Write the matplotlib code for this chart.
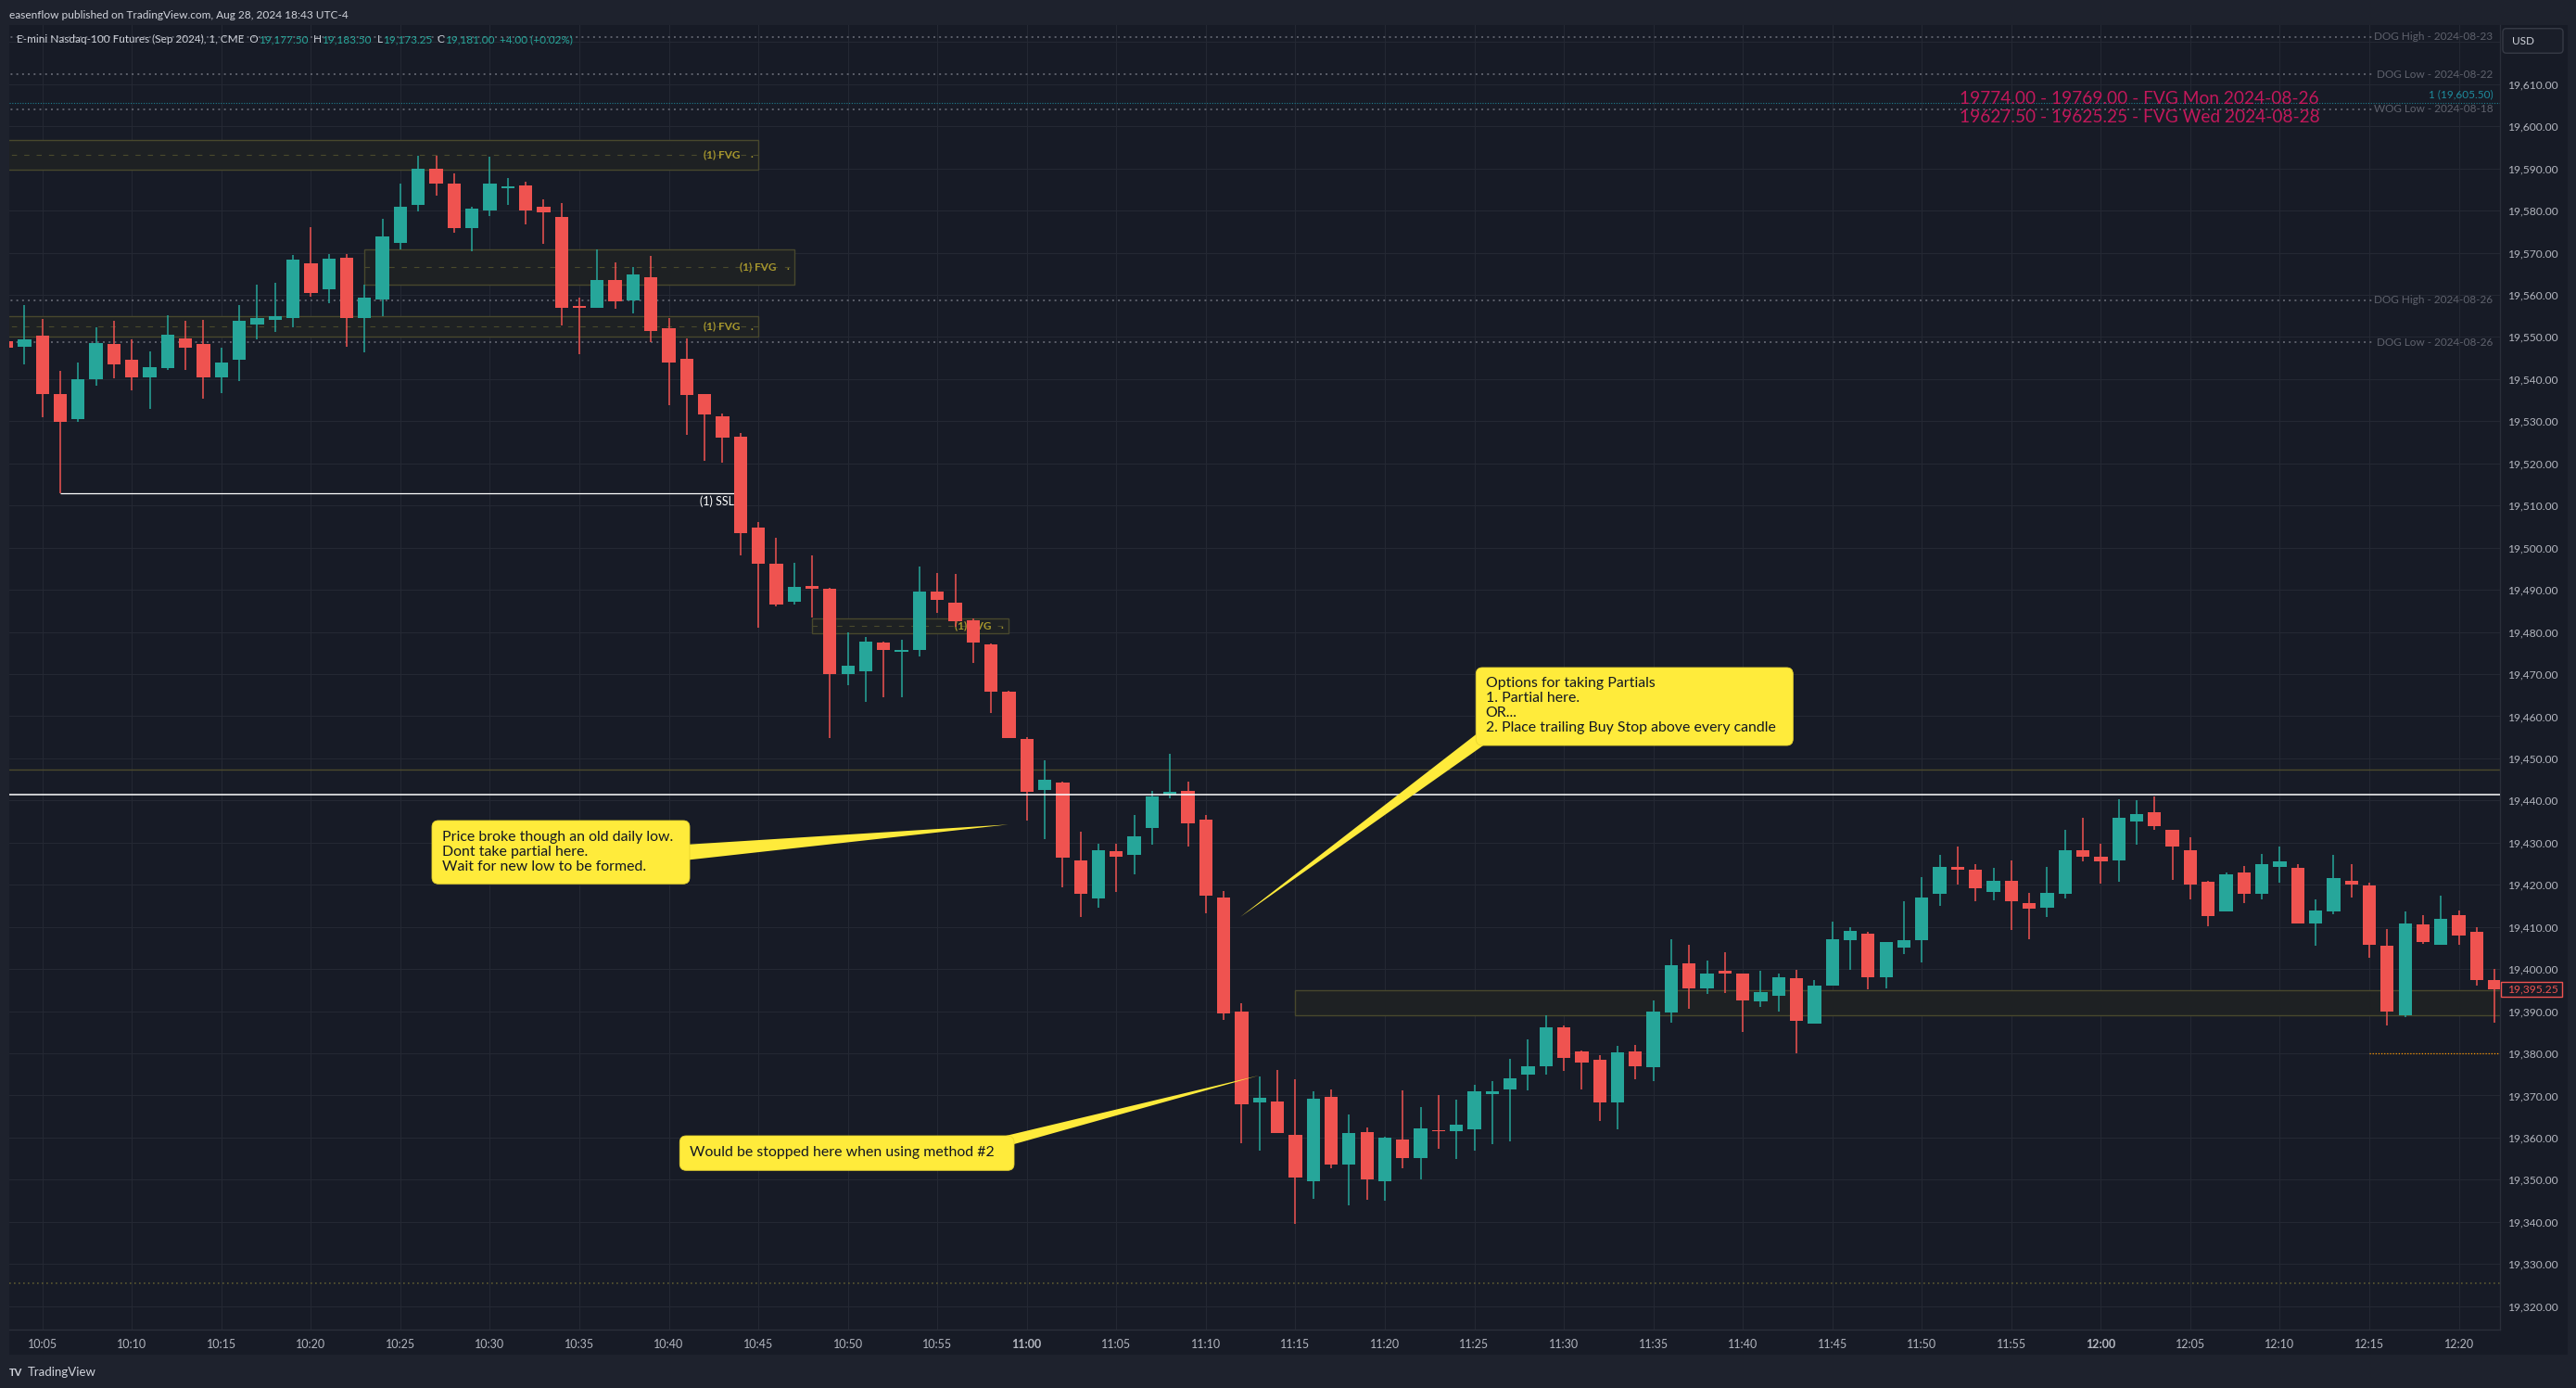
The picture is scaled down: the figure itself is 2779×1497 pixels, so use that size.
import matplotlib
matplotlib.use("Agg")
import matplotlib.pyplot as plt
import matplotlib.transforms as mtrans
from matplotlib.patches import FancyBboxPatch, Polygon, Rectangle
from matplotlib.offsetbox import TextArea, HPacker, AnchoredOffsetbox
import numpy as np
import pandas as pd

plt.rcParams["font.family"] = ["Lato", "DejaVu Sans"]

# ---- data: 1 minute candles, first bar 10:03 ----
start_time = "2024-08-28 10:03"

opens = [
    19549.0, 19547.75, 19550.25, 19536.5, 19530.5, 19540.0, 19548.25, 19544.5, 19540.5, 19542.5,
    19549.75, 19548.25, 19540.5, 19544.5, 19553.0, 19554.0, 19554.5, 19567.5, 19561.25, 19568.75,
    19554.5, 19559.0, 19572.25, 19581.25, 19590.0, 19586.5, 19575.75, 19580.0, 19585.5, 19586.0,
    19581.0, 19578.5, 19557.25, 19557.0, 19563.5, 19558.75, 19564.25, 19552.0, 19544.75, 19536.5,
    19531.25, 19526.25, 19504.75, 19496.25, 19487.25, 19491.0, 19490.25, 19470.0, 19470.75, 19477.5,
    19475.5, 19475.75, 19489.5, 19487.0, 19482.75, 19477.0, 19465.75, 19454.5, 19442.5, 19444.25,
    19425.75, 19416.75, 19428.0, 19427.0, 19433.5, 19441.5, 19442.25, 19435.5, 19417.0, 19390.0,
    19368.25, 19368.5, 19360.75, 19349.75, 19369.75, 19353.5, 19361.25, 19349.75, 19359.5, 19355.25,
    19361.75, 19361.5, 19362.0, 19370.25, 19371.5, 19375.0, 19377.0, 19386.25, 19380.5, 19378.5,
    19368.25, 19380.5, 19376.75, 19389.75, 19401.25, 19395.5, 19399.5, 19399.0, 19392.25, 19393.75,
    19397.75, 19387.0, 19396.0, 19406.75, 19408.5, 19398.0, 19405.0, 19406.75, 19417.75, 19424.25,
    19423.5, 19418.25, 19421.0, 19415.75, 19414.5, 19417.75, 19428.25, 19426.75, 19425.75, 19435.0,
    19437.25, 19433.0, 19428.25, 19420.75, 19413.75, 19423.0, 19417.75, 19424.25, 19424.0, 19410.75,
    19413.75, 19421.0, 19419.75, 19405.5, 19389.0, 19410.5, 19405.75, 19412.75, 19408.75, 19397.5,
]
highs = [
    19549.5, 19557.5, 19554.25, 19542.0, 19544.0, 19552.25, 19553.75, 19549.5, 19546.5, 19555.25,
    19553.75, 19554.0, 19547.5, 19557.5, 19562.5, 19562.75, 19569.5, 19576.0, 19569.75, 19569.75,
    19562.5, 19578.0, 19586.5, 19593.0, 19593.0, 19588.75, 19581.0, 19592.75, 19587.75, 19586.75,
    19582.75, 19581.75, 19559.25, 19570.75, 19567.75, 19566.5, 19569.25, 19554.5, 19549.75, 19536.5,
    19531.75, 19527.25, 19506.0, 19502.25, 19496.5, 19498.25, 19490.5, 19480.0, 19478.75, 19477.75,
    19478.25, 19495.5, 19494.0, 19493.75, 19483.25, 19477.25, 19466.0, 19455.0, 19449.5, 19444.5,
    19432.5, 19429.75, 19429.75, 19436.5, 19442.25, 19451.0, 19444.5, 19436.5, 19418.5, 19392.0,
    19374.5, 19376.0, 19373.75, 19371.0, 19371.5, 19365.5, 19362.5, 19360.25, 19371.25, 19367.25,
    19370.0, 19369.0, 19372.5, 19373.5, 19378.75, 19383.25, 19389.0, 19386.5, 19380.75, 19379.5,
    19381.75, 19382.0, 19392.5, 19407.0, 19405.75, 19402.0, 19404.0, 19399.0, 19399.5, 19399.0,
    19399.75, 19397.5, 19411.25, 19410.0, 19408.75, 19406.5, 19416.0, 19421.75, 19427.0, 19429.0,
    19425.0, 19424.0, 19425.75, 19418.0, 19424.25, 19433.0, 19436.0, 19429.75, 19440.25, 19440.0,
    19441.0, 19433.0, 19431.25, 19421.0, 19423.0, 19424.5, 19427.25, 19429.0, 19425.0, 19416.5,
    19427.0, 19425.0, 19420.5, 19409.5, 19413.75, 19412.75, 19417.5, 19414.0, 19410.0, 19400.0,
]
lows = [
    19547.0, 19543.5, 19531.0, 19513.0, 19529.75, 19538.5, 19540.25, 19537.25, 19533.0, 19542.25,
    19542.25, 19535.25, 19536.75, 19539.5, 19549.5, 19551.25, 19552.25, 19559.5, 19558.0, 19547.75,
    19546.25, 19555.0, 19570.75, 19579.75, 19583.5, 19574.75, 19570.25, 19578.75, 19581.25, 19576.75,
    19572.0, 19552.75, 19546.0, 19557.0, 19556.75, 19555.5, 19548.75, 19533.75, 19526.75, 19520.5,
    19520.25, 19498.25, 19481.0, 19486.0, 19486.5, 19483.5, 19454.75, 19467.25, 19463.5, 19464.5,
    19464.5, 19474.25, 19484.5, 19481.25, 19472.75, 19460.75, 19454.75, 19435.25, 19430.75, 19419.5,
    19412.25, 19414.5, 19418.25, 19422.5, 19429.5, 19440.5, 19429.0, 19413.25, 19388.0, 19358.75,
    19357.0, 19361.0, 19339.5, 19345.5, 19352.75, 19344.0, 19345.25, 19345.0, 19352.75, 19350.0,
    19357.25, 19355.0, 19357.0, 19358.5, 19359.0, 19371.25, 19375.0, 19375.75, 19371.5, 19364.0,
    19362.0, 19373.75, 19373.5, 19387.25, 19390.5, 19394.0, 19394.25, 19385.0, 19391.0, 19390.0,
    19380.0, 19387.0, 19396.0, 19399.75, 19395.25, 19395.5, 19403.5, 19401.5, 19415.0, 19420.0,
    19416.0, 19416.25, 19409.25, 19407.0, 19412.25, 19416.75, 19425.5, 19420.25, 19420.75, 19429.5,
    19433.0, 19421.25, 19416.5, 19410.25, 19413.75, 19415.75, 19416.5, 19420.5, 19410.75, 19405.5,
    19413.0, 19417.0, 19402.75, 19386.5, 19388.5, 19406.0, 19405.75, 19405.75, 19396.0, 19387.25,
]
closes = [
    19547.5, 19549.5, 19536.5, 19529.75, 19540.0, 19548.5, 19543.5, 19540.5, 19542.75, 19550.5,
    19547.5, 19540.5, 19544.0, 19553.75, 19554.5, 19555.0, 19568.25, 19560.5, 19568.5, 19554.5,
    19559.25, 19573.75, 19581.0, 19590.0, 19586.5, 19575.75, 19580.5, 19586.5, 19585.5, 19580.0,
    19579.5, 19557.0, 19557.0, 19563.5, 19558.5, 19564.75, 19551.5, 19544.0, 19536.25, 19531.5,
    19526.0, 19503.5, 19496.25, 19486.5, 19490.75, 19490.25, 19470.0, 19472.0, 19477.75, 19475.75,
    19475.5, 19489.5, 19487.5, 19482.5, 19477.5, 19465.75, 19454.75, 19442.0, 19445.0, 19426.5,
    19417.75, 19428.25, 19426.75, 19431.5, 19441.0, 19442.0, 19434.5, 19417.5, 19389.5, 19368.0,
    19369.5, 19361.0, 19350.5, 19369.25, 19353.5, 19361.0, 19350.0, 19360.0, 19355.25, 19362.25,
    19361.5, 19363.0, 19371.0, 19371.0, 19374.0, 19377.0, 19386.25, 19379.0, 19377.75, 19368.25,
    19380.25, 19377.0, 19390.0, 19401.0, 19395.5, 19399.0, 19399.0, 19392.5, 19394.5, 19398.0,
    19387.75, 19396.0, 19407.0, 19409.0, 19398.0, 19406.5, 19406.75, 19417.0, 19424.25, 19423.5,
    19419.25, 19421.0, 19416.0, 19414.25, 19418.0, 19428.25, 19426.75, 19425.5, 19436.0, 19436.75,
    19434.0, 19429.0, 19420.0, 19412.5, 19422.5, 19417.75, 19425.0, 19425.5, 19410.75, 19414.0,
    19421.5, 19420.0, 19405.75, 19390.0, 19410.75, 19406.5, 19412.0, 19408.0, 19397.5, 19395.25,
]

# horizontal reference levels (gray dotted) and their labels
level_prices = [19621.25, 19612.25, 19604.0, 19558.75, 19548.75]
level_labels = ["DOG High - 2024-08-23", "DOG Low - 2024-08-22", "WOG Low - 2024-08-18",
                "DOG High - 2024-08-26", "DOG Low - 2024-08-26"]
pos_level = 19605.5
ssl_price = 19513.0
old_low = 19441.5
old_low_zone_top = 19447.25
bottom_level = 19325.5
orange_level = 19380.0

# FVG boxes: start time, end time, top, bottom
fvg_start = ["10:00", "10:23", "10:00", "10:48", "11:15"]
fvg_end = ["10:45", "10:47", "10:45", "10:59", "12:40"]
fvg_top = [19596.75, 19570.75, 19555.0, 19483.25, 19395.0]
fvg_bottom = [19589.75, 19562.5, 19550.0, 19479.75, 19389.0]
fvg_labelled = [True, True, True, True, False]

legend_parts = [
    ("E-mini Nasdaq-100 Futures (Sep 2024), 1, CME  O", "#d1d4dc"), ("19,177.50", "#26a69a"),
    ("  H", "#d1d4dc"), ("19,183.50", "#26a69a"), ("  L", "#d1d4dc"), ("19,173.25", "#26a69a"),
    ("  C", "#d1d4dc"), ("19,181.00", "#26a69a"), ("  +4.00 (+0.02%)", "#26a69a"),
]
fvg_notes = ["19774.00 - 19769.00 - FVG Mon 2024-08-26",
             "19627.50 - 19625.25 - FVG Wed 2024-08-28"]

# ---- styling ----
W, H = 2779, 1497
BG_OUT = "#1e222d"
BG = "#171b26"
GRID = "#242833"
UP = "#26a69a"
DOWN = "#ef5350"
YEL = "#ffeb3b"
OLIVE = "#48482d"
FVG_TXT = "#a8982e"


def tmin(s):
    h, m = s.split(":")
    return (int(h) - 10) * 60 + int(m)


t = pd.date_range(start_time, periods=len(opens), freq="min")
x = np.array((t.hour - 10) * 60 + t.minute, dtype=float)
o = np.array(opens)
c = np.array(closes)
hi = np.array(highs)
lo = np.array(lows)
cols = np.where(c >= o, UP, DOWN)

fig = plt.figure(figsize=(W / 100, H / 100), dpi=100, facecolor=BG_OUT)
pix = mtrans.Affine2D().scale(1, -1).translate(0, H)

fig.add_artist(Rectangle((10, 27), 2760, 1434, transform=pix, facecolor=BG,
                         edgecolor="none", zorder=-10))

ax = fig.add_axes([10 / W, 1 - 1434 / H, 2687 / W, 1407 / H])
ax.set_facecolor(BG)
ax.set_xlim(3.151, 142.30)
ax.set_ylim(19314.44, 19624.02)

# grid
xt = list(range(5, 141, 5))
ax.set_xticks(xt)
ax.set_xticklabels(["%d:%02d" % (10 + v // 60, v % 60) for v in xt])
for lab in ax.get_xticklabels():
    if lab.get_text() in ("11:00", "12:00"):
        lab.set_fontweight("bold")
yt = list(range(19320, 19611, 10))
ax.set_yticks(yt)
ax.set_yticklabels(["{:,.2f}".format(v) for v in yt])
ax.yaxis.tick_right()
ax.tick_params(axis="x", length=0, pad=7, labelsize=9, colors="#b2b5be")
ax.tick_params(axis="y", length=0, pad=6, labelsize=8.7, colors="#b2b5be")
ax.grid(True, color=GRID, lw=0.8, zorder=0)
ax.set_axisbelow(True)
ax.axhline(19620, color=GRID, lw=0.8, zorder=0)
for s in ("top", "left"):
    ax.spines[s].set_visible(False)
for s in ("right", "bottom"):
    ax.spines[s].set_color("#2a2e39")
    ax.spines[s].set_linewidth(1)

# FVG boxes
for s0, s1, top, bot, lab in zip(fvg_start, fvg_end, fvg_top, fvg_bottom, fvg_labelled):
    a, b = tmin(s0), tmin(s1)
    ax.add_patch(Rectangle((a, bot), b - a, top - bot, facecolor="#1e2123",
                           edgecolor=OLIVE, lw=1.0, zorder=1))
    if lab:
        ax.hlines((top + bot) / 2, a, b, colors="#4a4a2c", lw=0.8,
                  linestyles=(0, (5, 7)), zorder=1.1)
        ax.text(b - 1.0, (top + bot) / 2, "(1) FVG", ha="right", va="center",
                fontsize=8.5, fontweight="bold", color=FVG_TXT, zorder=1.2)
        ax.text(b - 0.37, (top + bot) / 2, ".", ha="center", va="center",
                fontsize=8.5, fontweight="bold", color=FVG_TXT, zorder=1.2)

# level lines
for p, lab in zip(level_prices, level_labels):
    ax.hlines(p, 0, 135.15, colors="#5d606b", lw=1.4, linestyles=(0, (1, 2.2)), zorder=1.5)
    ax.text(141.9, p, lab, ha="right", va="center", fontsize=8.5, color="#5f626d", zorder=1.5)
ax.axhline(pos_level, color="#1e7f90", lw=0.8, ls=(0, (1, 1.5)), zorder=1.5)
ax.text(141.9, pos_level + 2.1, "1 (19,605.50)", ha="right", va="center",
        fontsize=8.5, color="#1e8c9e", zorder=1.5)
ax.axhline(bottom_level, color="#5a5730", lw=1.2, ls=(0, (1, 2)), zorder=1.5)
ax.hlines(orange_level, tmin("12:15"), 150, colors="#ff9800", lw=0.9,
          linestyles=(0, (1, 1.5)), zorder=1.5)
ax.axhline(old_low_zone_top, color="#4d4b2c", lw=1.0, zorder=1.5)

# sell side liquidity
ax.hlines(ssl_price, tmin("10:06"), 43.65, colors="white", lw=0.9, zorder=2)
ax.text(43.65, ssl_price - 2.1, "(1) SSL", ha="right", va="center", fontsize=9,
        color="white", zorder=2)

# candles
ax.vlines(x, lo, hi, colors=cols, lw=1.1, zorder=3)
diff = np.abs(c - o)
bh = np.maximum(diff, 0.3)
bb = np.minimum(o, c) - (bh - diff) / 2
ax.bar(x, bh, bottom=bb, width=0.74, color=cols, linewidth=0, zorder=3.1)

ax.axhline(old_low, color="white", lw=1.1, zorder=4)

# last price tag
blend = mtrans.blended_transform_factory(pix, ax.transData)
fig.add_artist(Rectangle((2698, closes[-1] - 1.75), 66, 3.5, transform=blend,
                         facecolor=BG, edgecolor=DOWN, lw=1.0, zorder=6))
fig.text(2705, closes[-1], "{:,.2f}".format(closes[-1]), transform=blend, ha="left",
         va="center", fontsize=8.7, color=DOWN, zorder=7)

# USD box
fig.add_artist(FancyBboxPatch((2700, 30.7), 65, 26.6, boxstyle="round,pad=0,rounding_size=4",
                              transform=pix, facecolor="#1a1e29", edgecolor="#363a45",
                              lw=1.0, zorder=6))
fig.text(2710, 44, "USD", transform=pix, ha="left", va="center", fontsize=8.5,
         color="#d1d4dc", zorder=7)

# header
fig.text(10, 16, "easenflow published on TradingView.com, Aug 28, 2024 18:43 UTC-4",
         transform=pix, ha="left", va="center", fontsize=8.6, color="#d1d4dc")
boxes = [TextArea(s, textprops=dict(color=col, fontsize=8.45)) for s, col in legend_parts]
pack = HPacker(children=boxes, align="baseline", pad=0, sep=0)
fig.add_artist(AnchoredOffsetbox(loc="center left", child=pack, pad=0, borderpad=0,
                                 frameon=False, bbox_to_anchor=(18, 42.7),
                                 bbox_transform=pix))
for i, s in enumerate(fvg_notes):
    fig.text(2114, 106.7 + 20 * i, s, transform=pix, ha="left", va="center",
             fontsize=13.8, color="#c2185b", zorder=6)

# footer
fig.text(10, 1480, "TV", transform=pix, ha="left", va="center", fontsize=8,
         fontweight="bold", color="#d1d4dc")
fig.text(30, 1480, "TradingView", transform=pix, ha="left", va="center", fontsize=9.5,
         color="#d1d4dc")


# callouts
def callout(x0, y0, x1, y1, tail, lines, tx, ty, dy):
    fig.add_artist(Polygon(tail, closed=True, transform=pix, facecolor=YEL,
                           edgecolor="none", zorder=20))
    fig.add_artist(FancyBboxPatch((x0, y0), x1 - x0, y1 - y0,
                                  boxstyle="round,pad=0,rounding_size=7", transform=pix,
                                  facecolor=YEL, edgecolor="#e9d52f", lw=0.6, zorder=21))
    for k, s in enumerate(lines):
        fig.text(tx, ty + k * dy, s, transform=pix, ha="left", va="center", fontsize=11.4,
                 color="#131722", zorder=22)


callout(466, 885, 744, 953.3, [(734, 911.3), (1087.7, 889.3), (734, 928.4)],
        ["Price broke though an old daily low.", "Dont take partial here.",
         "Wait for new low to be formed."], 476.7, 903.3, 15.7)
callout(1592.3, 720, 1934.3, 804, [(1595, 790), (1338, 989), (1620, 790)],
        ["Options for taking Partials", "1. Partial here.", "OR...",
         "2. Place trailing Buy Stop above every candle"], 1602.7, 737.3, 16)
callout(733.3, 1225, 1094, 1262.3, [(1075, 1227.4), (1358, 1160), (1075, 1239.3)],
        ["Would be stopped here when using method #2"], 744, 1243.3, 16)

fig.savefig("out.png", dpi=100, facecolor=BG_OUT)
